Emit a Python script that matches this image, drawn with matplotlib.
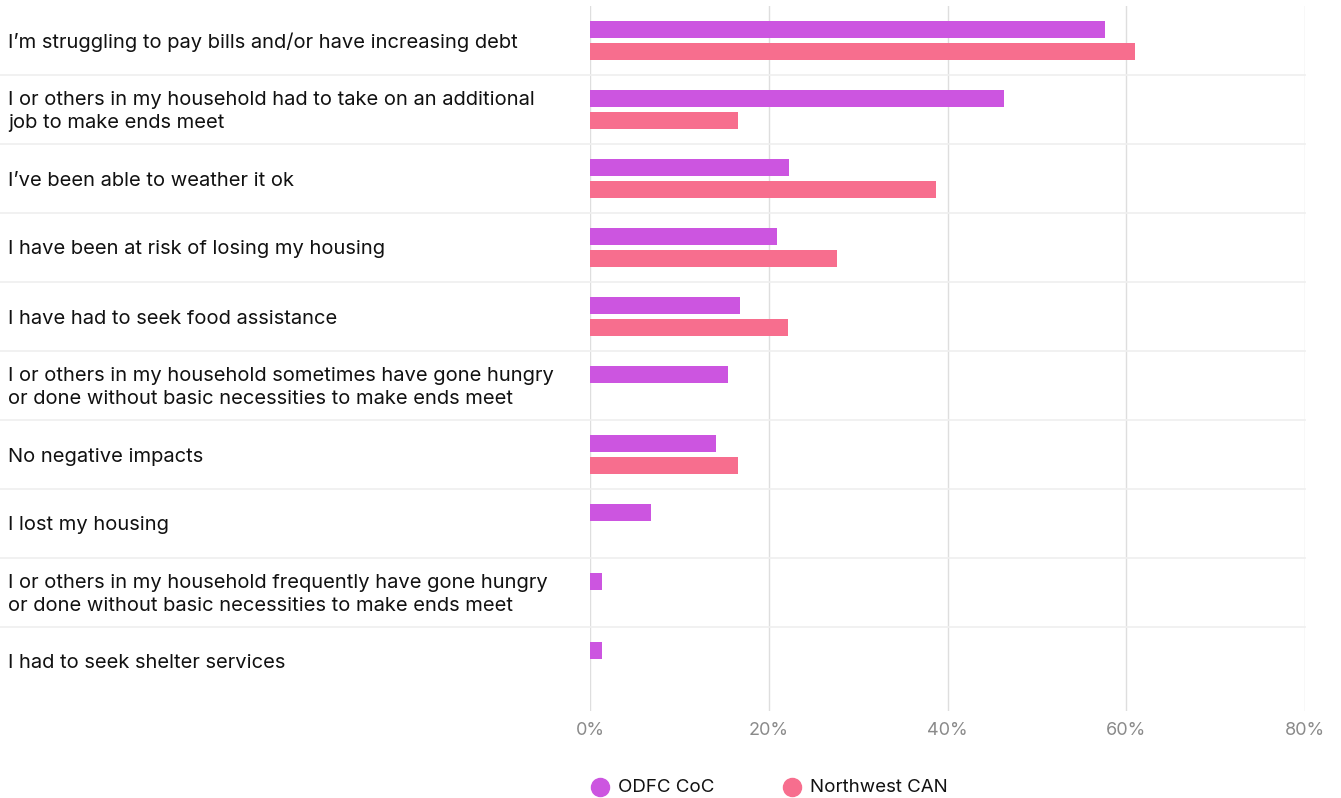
import matplotlib
matplotlib.use("Agg")
import matplotlib.pyplot as plt
from matplotlib.transforms import blended_transform_factory, offset_copy
from matplotlib.lines import Line2D
import numpy as np

categories = [
    "I’m struggling to pay bills and/or have increasing debt",
    "I or others in my household had to take on an additional\njob to make ends meet",
    "I’ve been able to weather it ok",
    "I have been at risk of losing my housing",
    "I have had to seek food assistance",
    "I or others in my household sometimes have gone hungry\nor done without basic necessities to make ends meet",
    "No negative impacts",
    "I lost my housing",
    "I or others in my household frequently have gone hungry\nor done without basic necessities to make ends meet",
    "I had to seek shelter services",
]
odfc_coc = [57.6, 46.3, 22.3, 20.9, 16.8, 15.4, 14.1, 6.8, 1.3, 1.3]
northwest_can = [61.0, 16.6, 38.7, 27.6, 22.1, None, 16.6, None, None, None]
series_names = ["ODFC CoC", "Northwest CAN"]
x_ticks = [0, 20, 40, 60, 80]
x_tick_labels = ["0%", "20%", "40%", "60%", "80%"]

colors = ["#CC55E0", "#F76E8E"]
font = ["Inter", "DejaVu Sans"]
plt.rcParams["font.family"] = font

W, H = 1341, 798
fig = plt.figure(figsize=(W / 100, H / 100), dpi=100)
ax = fig.add_axes([590 / W, 1 - 711 / H, (1305 - 590) / W, (711 - 6) / H])

n = len(categories)
y = np.arange(n)
bar_h = 17 / 69
offset = 11 / 69

for vals, off, col in [(odfc_coc, -offset, colors[0]), (northwest_can, offset, colors[1])]:
    for i, v in enumerate(vals):
        if v is None:
            continue
        ax.barh(y[i] + off, v, height=bar_h, color=col, zorder=3)

ax.set_xlim(0, 80)
ax.set_ylim(n - 0.5 + 15 / 69, -0.5)
ax.set_xticks(x_ticks)
ax.set_xticklabels(x_tick_labels, color="#8a8a8a", fontsize=13)
ax.tick_params(axis="x", length=0, pad=8)
ax.set_yticks([])
for s in ax.spines.values():
    s.set_visible(False)
ax.xaxis.grid(True, color="#dedede", linewidth=1.0, zorder=0)

# horizontal separators running under the category labels
tr = blended_transform_factory(fig.transFigure, ax.transData)
for i in range(n - 1):
    fig.add_artist(Line2D([0, 1305 / W], [i + 0.5, i + 0.5], transform=tr,
                          color="#efefef", linewidth=1.2, zorder=1))

# category labels
label_tr = offset_copy(tr, fig=fig, x=0, y=-2.0, units="dots")
for i, lab in enumerate(categories):
    fig.text(8 / W, i, lab, transform=label_tr, ha="left", va="center",
             fontsize=14.5, color="#111111", linespacing=1.42)

# legend
ly = 1 - 787 / H
for name, col, cx in [(series_names[0], colors[0], 600), (series_names[1], colors[1], 792)]:
    fig.add_artist(Line2D([cx / W], [ly], marker="o", markersize=13, color=col,
                          linestyle="none", transform=fig.transFigure))
    fig.text((cx + 18) / W, ly, name, ha="left", va="center", fontsize=13.5, color="#111111")

fig.savefig("out.png", dpi=100, facecolor="white")
